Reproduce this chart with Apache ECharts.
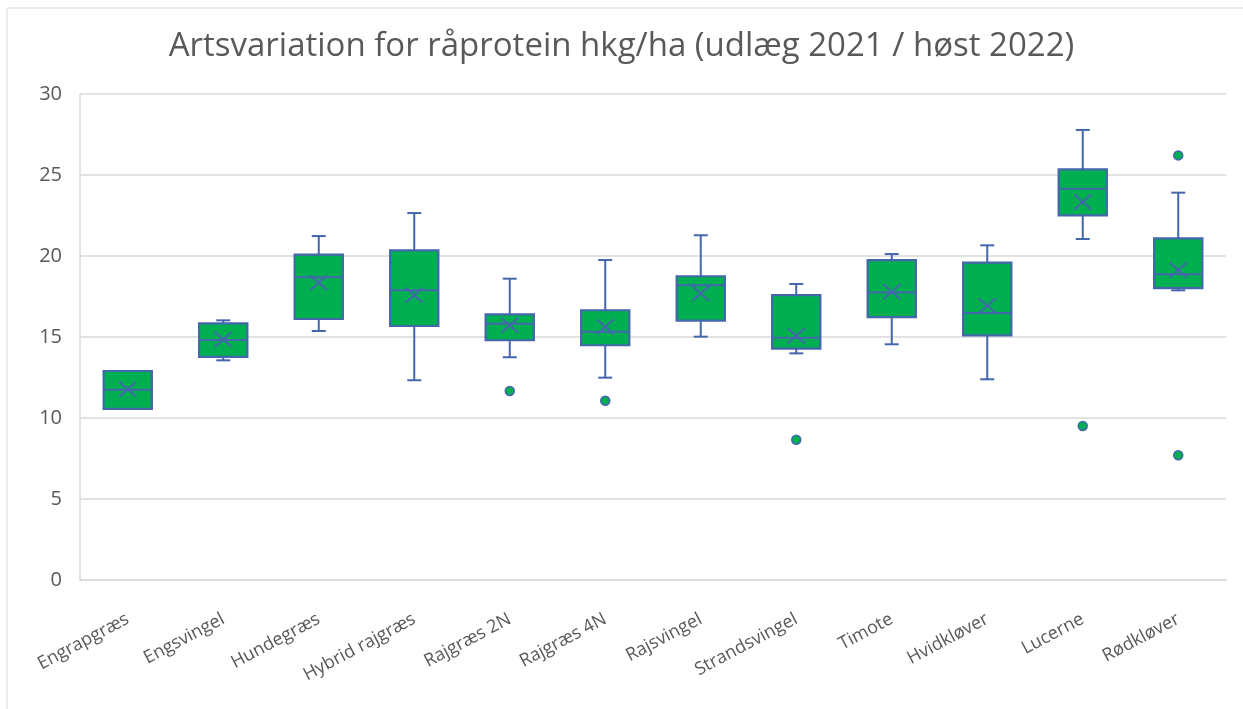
<!DOCTYPE html>
<html>
<head>
<meta charset="utf-8">
<script src="https://cdn.jsdelivr.net/npm/echarts@6/dist/echarts.min.js"></script>
<style>
html,body{margin:0;padding:0;background:#fff;}
#chart{width:1243px;height:709px;}
</style>
</head>
<body>
<div id="chart"></div>
<script>
var categories = ['Engrapgræs','Engsvingel','Hundegræs','Hybrid rajgræs','Rajgræs 2N','Rajgræs 4N','Rajsvingel','Strandsvingel','Timote','Hvidkløver','Lucerne','Rødkløver'];
var minVals  = [10.56, 13.56, 15.37, 12.33, 13.75, 12.49, 15.02, 13.99, 14.55, 12.39, 21.05, 17.88];
var q1Vals   = [10.56, 13.77, 16.11, 15.68, 14.80, 14.49, 16.01, 14.28, 16.23, 15.10, 22.51, 18.02];
var medVals  = [11.75, 14.81, 18.69, 17.88, 15.82, 15.33, 18.19, 14.96, 17.74, 16.48, 24.15, 18.87];
var q3Vals   = [12.90, 15.84, 20.08, 20.35, 16.40, 16.65, 18.75, 17.59, 19.75, 19.59, 25.35, 21.09];
var maxVals  = [12.90, 16.03, 21.23, 22.65, 18.60, 19.75, 21.28, 18.27, 20.12, 20.66, 27.78, 23.91];
var meanVals = [11.78, 14.85, 18.35, 17.57, 15.72, 15.64, 17.68, 15.08, 17.80, 16.93, 23.33, 19.14];
var outlierCats = ['Rajgræs 2N','Rajgræs 4N','Strandsvingel','Lucerne','Rødkløver','Rødkløver'];
var outlierVals = [11.67, 11.07, 8.66, 9.51, 26.21, 7.70];
var yTicks = [0, 5, 10, 15, 20, 25, 30];

var GREEN = '#00B050', BLUE = '#4466AC';

var boxData = categories.map(function(c, i){
  return [i, minVals[i], q1Vals[i], medVals[i], q3Vals[i], maxVals[i], meanVals[i]];
});
var outData = outlierCats.map(function(c, i){ return [categories.indexOf(c), outlierVals[i]]; });

function renderBox(params, api){
  var i = api.value(0);
  var pMin = api.coord([i, api.value(1)]);
  var pQ1 = api.coord([i, api.value(2)]);
  var pMed = api.coord([i, api.value(3)]);
  var pQ3 = api.coord([i, api.value(4)]);
  var pMax = api.coord([i, api.value(5)]);
  var pMean = api.coord([i, api.value(6)]);
  var band = api.size([1, 0])[0];
  var bw = band * 0.505, hw = bw / 2;
  var cap = 7;
  var cx = pMed[0];
  var ls = {stroke: BLUE, lineWidth: 2, fill: null};
  var ch = [];
  if (pMax[1] < pQ3[1] - 0.5) {
    ch.push({type:'line', shape:{x1:cx, y1:pMax[1], x2:cx, y2:pQ3[1]}, style:ls});
    ch.push({type:'line', shape:{x1:cx-cap, y1:pMax[1], x2:cx+cap, y2:pMax[1]}, style:ls});
  }
  if (pMin[1] > pQ1[1] + 0.5) {
    ch.push({type:'line', shape:{x1:cx, y1:pQ1[1], x2:cx, y2:pMin[1]}, style:ls});
    ch.push({type:'line', shape:{x1:cx-cap, y1:pMin[1], x2:cx+cap, y2:pMin[1]}, style:ls});
  }
  ch.push({type:'rect', shape:{x:cx-hw, y:pQ3[1], width:bw, height:pQ1[1]-pQ3[1]}, style:{fill:GREEN, stroke:BLUE, lineWidth:2.2}});
  ch.push({type:'line', shape:{x1:cx-hw, y1:pMed[1], x2:cx+hw, y2:pMed[1]}, style:ls});
  var mx = 8.5, my = 7.5;
  ch.push({type:'line', shape:{x1:cx-mx, y1:pMean[1]-my, x2:cx+mx, y2:pMean[1]+my}, style:ls});
  ch.push({type:'line', shape:{x1:cx-mx, y1:pMean[1]+my, x2:cx+mx, y2:pMean[1]-my}, style:ls});
  return {type:'group', children:ch};
}

var chart = echarts.init(document.getElementById('chart'));
chart.setOption({
  backgroundColor: '#fff',
  animation: false,
  title: {
    text: 'Artsvariation for råprotein hkg/ha (udlæg 2021 / høst 2022)',
    left: 'center', top: 25,
    textStyle: {fontFamily: 'Open Sans', fontWeight: 'normal', fontSize: 33, color: '#595959'}
  },
  graphic: [{
    type: 'rect', shape: {x: 7, y: 8, width: 1250, height: 720},
    style: {fill: null, stroke: '#D9D9D9', lineWidth: 1}, silent: true
  }],
  grid: {left: 80, right: 17, top: 94, bottom: 129, containLabel: false},
  xAxis: {
    type: 'category', data: categories,
    axisLine: {show: true, lineStyle: {color: '#D9D9D9', width: 1.5}},
    axisTick: {show: false},
    axisLabel: {rotate: 28, margin: 38, fontFamily: 'Open Sans', fontSize: 18, color: '#595959', interval: 0},
    splitLine: {show: false}
  },
  yAxis: {
    type: 'value', min: 0, max: 30, interval: 5,
    axisLine: {show: true, lineStyle: {color: '#D9D9D9', width: 1.5}},
    axisTick: {show: false},
    axisLabel: {margin: 18, fontFamily: 'Open Sans', fontSize: 20, color: '#595959',
      formatter: function(v){ return yTicks.indexOf(v) >= 0 ? String(v) : ''; }},
    splitLine: {show: true, lineStyle: {color: '#D9D9D9', width: 1.5}}
  },
  series: [{
    type: 'custom', renderItem: renderBox, data: boxData,
    encode: {x: 0, y: [1, 2, 3, 4, 5, 6]}, z: 2
  }, {
    type: 'scatter', data: outData, symbol: 'circle', symbolSize: 9,
    itemStyle: {color: GREEN, borderColor: BLUE, borderWidth: 1.5, opacity: 1}, z: 3
  }]
});
</script>
</body>
</html>
